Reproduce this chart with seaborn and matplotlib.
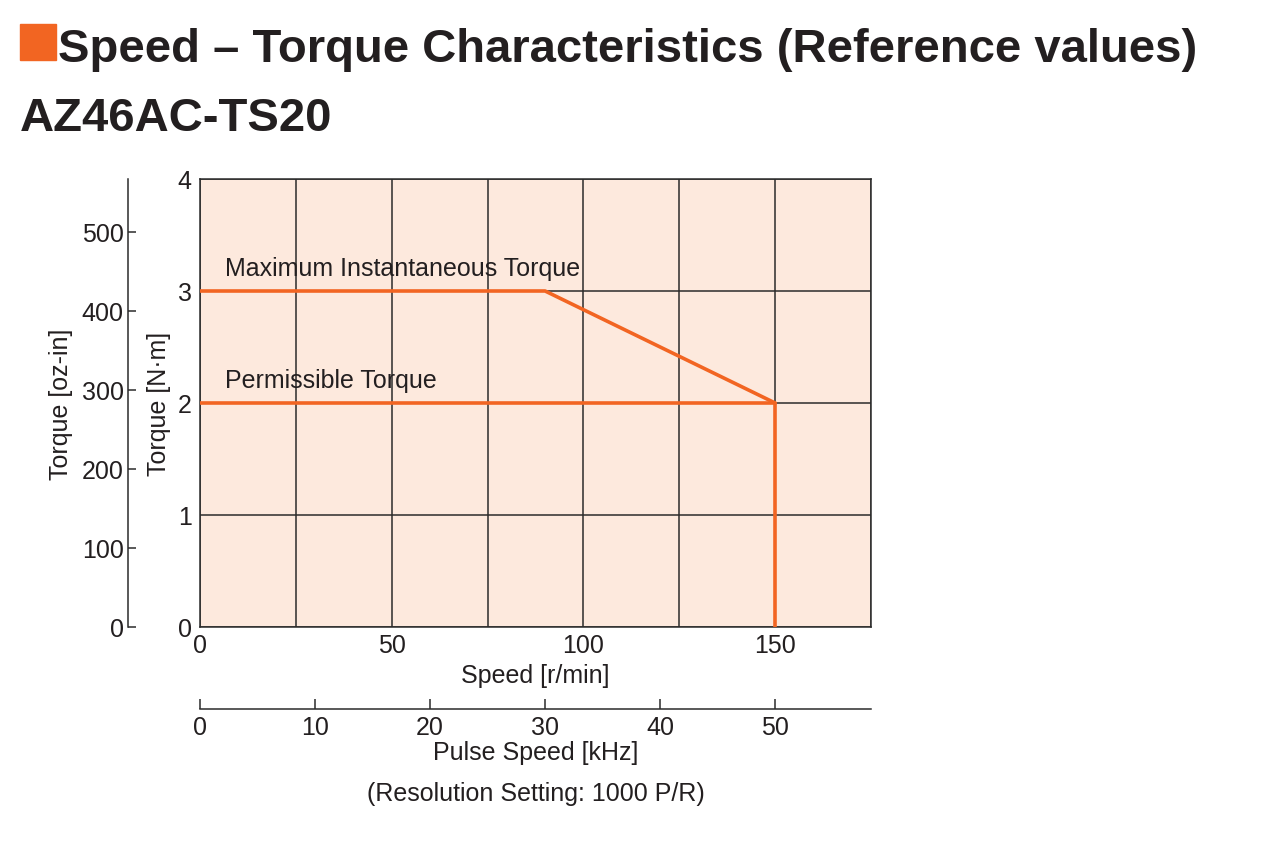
import seaborn as sns
import pandas as pd
import matplotlib.pyplot as plt
from matplotlib.ticker import MultipleLocator, NullFormatter

# speed-torque curves
speed_max = [0, 90, 150]
torque_max = [3, 3, 2]
speed_perm = [0, 150, 150]
torque_perm = [2, 2, 0]

speed_ticks = [0, 50, 100, 150]
torque_ticks = [0, 1, 2, 3, 4]
ozin_ticks = [0, 100, 200, 300, 400, 500]
pulse_ticks = [0, 10, 20, 30, 40, 50]

NM_TO_OZIN = 141.612
RPM_PER_KHZ = 3.0  # 1000 P/R -> 150 r/min = 50 kHz

ORANGE = "#F26522"
PEACH = "#FDE9DD"
GRID = "#2b2b2b"
TXT = "#231f20"
FS = 18

sns.set_theme(style="white")
plt.rcParams['font.family'] = ['Liberation Sans', 'DejaVu Sans']
plt.rcParams['text.color'] = TXT
plt.rcParams['axes.labelcolor'] = TXT
plt.rcParams['xtick.color'] = TXT
plt.rcParams['ytick.color'] = TXT

fig = plt.figure(figsize=(12.8, 8.53), dpi=100)
fig.patch.set_facecolor("white")

W, H = 1280, 853
ax = fig.add_axes([200 / W, 1 - 628 / H, 671 / W, 448 / H])
ax.set_facecolor(PEACH)

df_max = pd.DataFrame({"speed": speed_max, "torque": torque_max})
df_perm = pd.DataFrame({"speed": speed_perm, "torque": torque_perm})
sns.lineplot(data=df_max, x="speed", y="torque", sort=False, estimator=None,
             color=ORANGE, linewidth=2.6, ax=ax, zorder=5)
sns.lineplot(data=df_perm, x="speed", y="torque", sort=False, estimator=None,
             color=ORANGE, linewidth=2.6, ax=ax, zorder=5)

ax.set_xlim(0, 175)
ax.set_ylim(0, 4)
ax.xaxis.set_major_locator(MultipleLocator(50))
ax.xaxis.set_minor_locator(MultipleLocator(25))
ax.xaxis.set_minor_formatter(NullFormatter())
ax.set_yticks(torque_ticks)
ax.set_xticks(speed_ticks)
ax.grid(True, which="both", color=GRID, linewidth=1.1)
ax.tick_params(axis="both", which="both", length=0, labelsize=FS, pad=4)
ax.tick_params(axis="y", pad=6)
for s in ax.spines.values():
    s.set_visible(True)
    s.set_color(GRID)
    s.set_linewidth(1.1)
ax.set_xlabel("Speed [r/min]", fontsize=FS, va="top")
ax.xaxis.set_label_coords(0.5, -(664 - 628) / 448)
ax.set_ylabel("Torque [N·m]", fontsize=FS)
ax.yaxis.set_label_coords(-(200 - 171) / 671, 0.5)

ax.text(6.5, 3.1, "Maximum Instantaneous Torque", fontsize=FS, va="bottom")
ax.text(6.5, 2.1, "Permissible Torque", fontsize=FS, va="bottom")

# oz-in axis on the far left
ax2 = ax.twinx()
ax2.set_ylim(0, 4 * NM_TO_OZIN)
ax2.set_yticks(ozin_ticks)
ax2.yaxis.set_ticks_position("left")
ax2.yaxis.set_label_position("left")
for k in ["top", "right", "bottom"]:
    ax2.spines[k].set_visible(False)
ax2.spines["left"].set_position(("axes", -72 / 671))
ax2.spines["left"].set_color(GRID)
ax2.spines["left"].set_linewidth(1.1)
ax2.tick_params(axis="y", direction="in", length=6, width=1.1, color=GRID,
                labelsize=FS, pad=3)
ax2.set_ylabel("Torque [oz-in]", fontsize=FS)
ax2.yaxis.set_label_coords(-(200 - 73) / 671, 0.5)
ax2.grid(False)

# pulse speed axis below
ax3 = ax.twiny()
ax3.set_xlim(0, 175 / RPM_PER_KHZ)
ax3.set_xticks(pulse_ticks)
ax3.xaxis.set_ticks_position("bottom")
ax3.xaxis.set_label_position("bottom")
for k in ["top", "right", "left"]:
    ax3.spines[k].set_visible(False)
ax3.spines["bottom"].set_position(("axes", -82 / 448))
ax3.spines["bottom"].set_color(GRID)
ax3.spines["bottom"].set_linewidth(1.1)
ax3.tick_params(axis="x", direction="in", length=7, width=1.1, color=GRID,
                labelsize=FS, pad=4)
ax3.set_xlabel("Pulse Speed [kHz]\n(Resolution Setting: 1000 P/R)",
               fontsize=FS, linespacing=1.9, va="top")
ax3.xaxis.set_label_coords(0.5, -(741 - 628) / 448)
ax3.grid(False)

# headings
fig.patches.append(plt.Rectangle((20 / W, 1 - 61 / H), 36 / W, 36 / H,
                                 transform=fig.transFigure, color=ORANGE))
fig.text(58 / W, 1 - 62 / H, "Speed – Torque Characteristics (Reference values)",
         fontsize=34, fontweight="bold", va="baseline", ha="left")
fig.text(20 / W, 1 - 131 / H, "AZ46AC-TS20",
         fontsize=34, fontweight="bold", va="baseline", ha="left")

fig.savefig("out.png", dpi=100)
